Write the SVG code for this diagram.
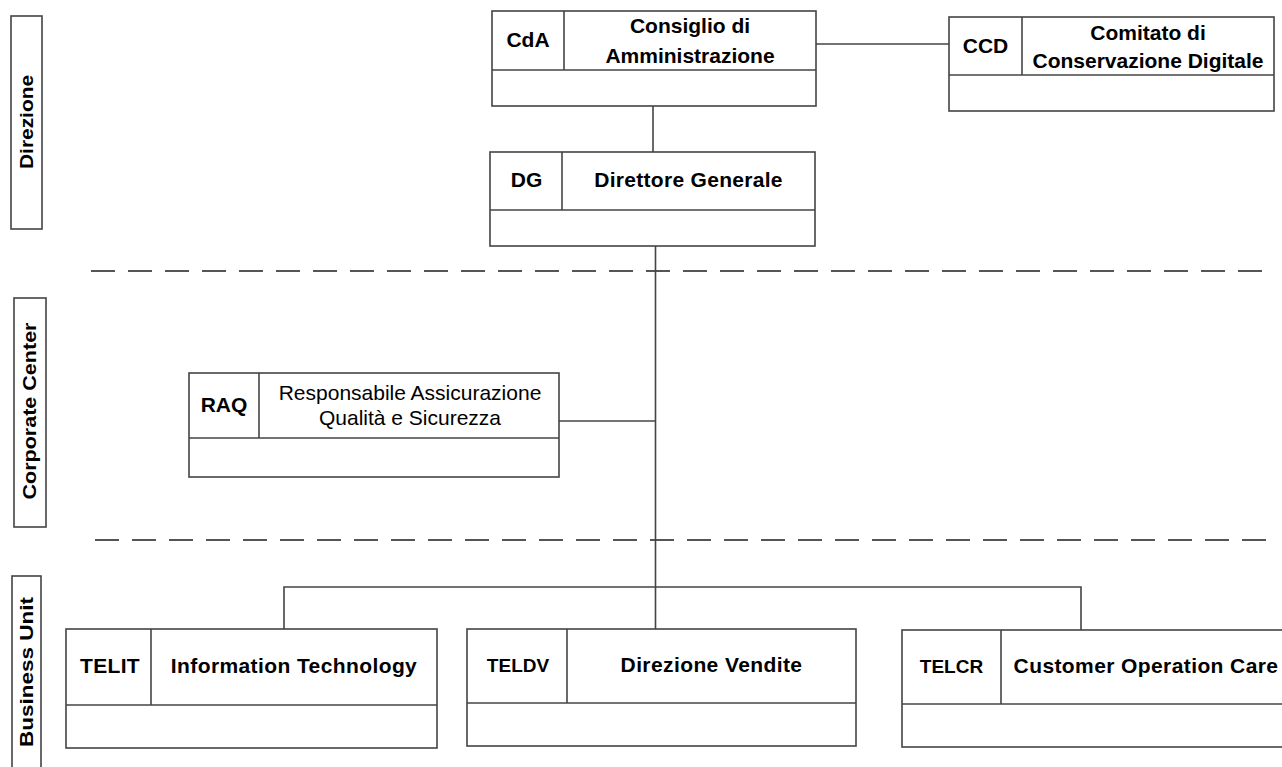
<svg xmlns="http://www.w3.org/2000/svg" width="1282" height="767" viewBox="0 0 1282 767">
<style>
.box{fill:#fff;stroke:#444;stroke-width:1.6}
.ln{fill:none;stroke:#444;stroke-width:1.6}
.dash{fill:none;stroke:#555;stroke-width:1.8;stroke-dasharray:24 13}
text{font-family:"Liberation Sans",Arial,sans-serif;fill:#000}
.b{font-weight:bold;font-size:21px;text-anchor:middle}
.r{font-size:21px;text-anchor:middle}
.s{font-weight:bold;font-size:19px;text-anchor:middle}
.lane{font-weight:bold;font-size:18px;text-anchor:middle}
</style>
<rect width="1282" height="767" fill="#fff"/>
<g id="lanes">
  <g id="lane-direzione">
    <rect class="box" x="11" y="16" width="31" height="213"/>
    <text class="lane" transform="translate(33.3,122) rotate(-90)" textLength="94" lengthAdjust="spacingAndGlyphs">Direzione</text>
  </g>
  <g id="lane-corporate">
    <rect class="box" x="14" y="298" width="32" height="229"/>
    <text class="lane" transform="translate(36,411) rotate(-90)" textLength="177" lengthAdjust="spacingAndGlyphs">Corporate Center</text>
  </g>
  <g id="lane-business">
    <rect class="box" x="12" y="576" width="29" height="205"/>
    <text class="lane" transform="translate(33,672) rotate(-90)" textLength="150" lengthAdjust="spacingAndGlyphs">Business Unit</text>
  </g>
  <line class="dash" x1="91" y1="271" x2="1270" y2="271"/>
  <line class="dash" x1="95" y1="540" x2="1270" y2="540"/>
</g>
<g id="connectors">
  <line class="ln" x1="816" y1="44" x2="949" y2="44"/>
  <line class="ln" x1="653" y1="106" x2="653" y2="152"/>
  <line class="ln" x1="655.5" y1="246" x2="655.5" y2="629"/>
  <line class="ln" x1="559" y1="421" x2="655.5" y2="421"/>
  <polyline class="ln" points="284,629 284,587 1081,587 1081,630"/>
</g>
<g id="node-cda">
  <rect class="box" x="492" y="11" width="324" height="95"/>
  <line class="ln" x1="492" y1="70" x2="816" y2="70"/>
  <line class="ln" x1="564" y1="11" x2="564" y2="70"/>
  <text class="b" x="528" y="47">CdA</text>
  <text class="b" x="690" y="33">Consiglio di</text>
  <text class="b" x="690" y="63">Amministrazione</text>
</g>
<g id="node-ccd">
  <rect class="box" x="949" y="17" width="325" height="94"/>
  <line class="ln" x1="949" y1="75" x2="1274" y2="75"/>
  <line class="ln" x1="1022" y1="17" x2="1022" y2="75"/>
  <text class="b" x="985.5" y="53">CCD</text>
  <text class="b" x="1148" y="40">Comitato di</text>
  <text class="b" x="1148" y="68">Conservazione Digitale</text>
</g>
<g id="node-dg">
  <rect class="box" x="490" y="152" width="325" height="94"/>
  <line class="ln" x1="490" y1="210" x2="815" y2="210"/>
  <line class="ln" x1="562" y1="152" x2="562" y2="210"/>
  <text class="b" x="526.5" y="186.5">DG</text>
  <text class="b" x="688.5" y="186.5" letter-spacing="0.3">Direttore Generale</text>
</g>
<g id="node-raq">
  <rect class="box" x="189" y="373" width="370" height="104"/>
  <line class="ln" x1="189" y1="438" x2="559" y2="438"/>
  <line class="ln" x1="259" y1="373" x2="259" y2="438"/>
  <text class="b" x="224" y="412">RAQ</text>
  <text class="r" x="410" y="400">Responsabile Assicurazione</text>
  <text class="r" x="410" y="425">Qualità e Sicurezza</text>
</g>
<g id="node-telit">
  <rect class="box" x="66" y="629" width="371" height="119"/>
  <line class="ln" x1="66" y1="705" x2="437" y2="705"/>
  <line class="ln" x1="151" y1="629" x2="151" y2="705"/>
  <text class="b" x="110" y="673" letter-spacing="0.3">TELIT</text>
  <text class="b" x="294" y="673" letter-spacing="0.4">Information Technology</text>
</g>
<g id="node-teldv">
  <rect class="box" x="467" y="629" width="389" height="117"/>
  <line class="ln" x1="467" y1="703" x2="856" y2="703"/>
  <line class="ln" x1="567" y1="629" x2="567" y2="703"/>
  <text class="s" x="518" y="672" font-size="18.5">TELDV</text>
  <text class="b" x="711.5" y="672" letter-spacing="0.4">Direzione Vendite</text>
</g>
<g id="node-telcr">
  <rect class="box" x="902" y="630" width="400" height="117"/>
  <line class="ln" x1="902" y1="704" x2="1302" y2="704"/>
  <line class="ln" x1="1001" y1="630" x2="1001" y2="704"/>
  <text class="s" x="951.5" y="673">TELCR</text>
  <text class="b" x="1146" y="673" letter-spacing="0.4">Customer Operation Care</text>
</g>
</svg>
